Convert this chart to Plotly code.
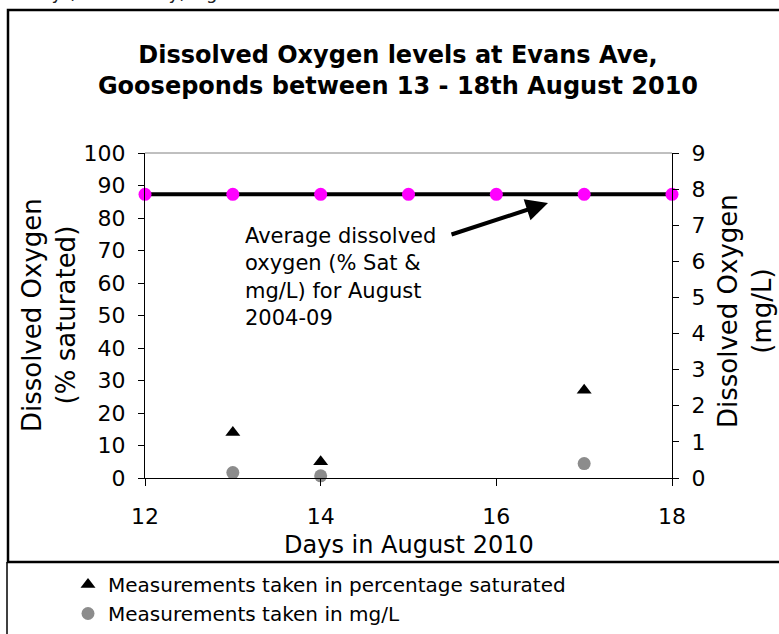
import plotly.graph_objects as go

# ---- data ----
days_all = [12, 13, 14, 15, 16, 17, 18]
avg_pct = [87.3, 87.3, 87.3, 87.3, 87.3, 87.3, 87.3]
meas_days = [13, 14, 17]
pct_sat = [14, 5, 27]
mg_l = [0.15, 0.06, 0.4]
x_ticks = [12, 14, 16, 18]
y_left_ticks = list(range(0, 101, 10))
y_right_ticks = list(range(0, 10))

FONT = "DejaVu Sans"

# plot area in pixels
L, R, T, B = 145, 672, 153, 478
W, H = 779, 634
def px(xp):
    return (xp - L) / (R - L)
def py(yp):
    return (B - yp) / (B - T)

fig = go.Figure()

# average line (black)
fig.add_trace(go.Scatter(x=days_all, y=avg_pct, mode="lines",
                         line=dict(color="black", width=4),
                         showlegend=False, hoverinfo="skip", cliponaxis=False))
# magenta points on average
fig.add_trace(go.Scatter(x=days_all, y=avg_pct, mode="markers",
                         marker=dict(color="#FF00FF", size=13, symbol="circle"),
                         showlegend=False, cliponaxis=False))
# triangles % saturated
fig.add_trace(go.Scatter(x=meas_days, y=pct_sat, mode="markers",
                         name="Measurements taken in percentage saturated",
                         marker=dict(color="black", size=13, symbol="triangle-up"),
                         cliponaxis=False))
# grey circles mg/L
fig.add_trace(go.Scatter(x=meas_days, y=mg_l, mode="markers", yaxis="y2",
                         name="Measurements taken in mg/L",
                         marker=dict(color="#8c8c8c", size=13, symbol="circle"),
                         cliponaxis=False))

fig.update_layout(
    width=W, height=H,
    margin=dict(l=L, r=W - R, t=T, b=H - B, autoexpand=False),
    paper_bgcolor="white", plot_bgcolor="white",
    font=dict(family=FONT, color="black"),
    title=dict(text="Dissolved Oxygen levels at Evans Ave,<br>Gooseponds between 13 - 18th August 2010",
               x=398 / W, xanchor="center", y=1 - 62.5 / H, yanchor="middle",
               yref="container", xref="container",
               font=dict(family=FONT, size=24, color="black", weight="bold")),
    xaxis=dict(range=[12, 18], tickvals=x_ticks, ticktext=[str(v) for v in x_ticks],
               showline=True, linecolor="black", linewidth=1,
               ticks="outside", ticklen=7, tickcolor="black",
               tickfont=dict(size=22, family=FONT), ticklabelstandoff=12,
               showgrid=False, zeroline=False),
    yaxis=dict(range=[0, 100], tickvals=y_left_ticks,
               showline=True, linecolor="black", linewidth=1,
               ticks="outside", ticklen=6, tickcolor="black",
               tickfont=dict(size=22, family=FONT), ticklabelstandoff=8,
               showgrid=False, zeroline=False),
    yaxis2=dict(range=[0, 9], tickvals=y_right_ticks, overlaying="y", side="right",
                showline=True, linecolor="black", linewidth=1,
                ticks="outside", ticklen=6, tickcolor="black",
                tickfont=dict(size=22, family=FONT), ticklabelstandoff=8,
                showgrid=False, zeroline=False),
    # inner half of the crossing ticks on the right axis
    yaxis3=dict(range=[0, 9], tickvals=y_right_ticks, overlaying="y", side="right",
                showline=False, ticks="inside", ticklen=6, tickcolor="black",
                showticklabels=False, showgrid=False, zeroline=False),
    legend=dict(x=px(68), y=py(565), xanchor="left", yanchor="top",
                font=dict(size=20, family=FONT), bgcolor="rgba(0,0,0,0)",
                tracegroupgap=0),
    showlegend=True,
)

annotations = [
    dict(text="Dissolved Oxygen<br>(% saturated)", xref="paper", yref="paper",
         x=px(49), y=py(315), textangle=-90, showarrow=False,
         font=dict(size=26, family=FONT), xanchor="center", yanchor="middle"),
    dict(text="Dissolved Oxygen<br>(mg/L)", xref="paper", yref="paper",
         x=px(745), y=py(311), textangle=-90, showarrow=False,
         font=dict(size=26, family=FONT), xanchor="center", yanchor="middle"),
    dict(text="Days in August 2010", xref="paper", yref="paper",
         x=px(409), y=py(545), showarrow=False,
         font=dict(size=24, family=FONT), xanchor="center", yanchor="middle"),
    dict(text="Average dissolved<br>oxygen (% Sat &<br>mg/L) for August<br>2004-09",
         xref="paper", yref="paper", x=px(243), y=py(222), showarrow=False,
         align="left", xanchor="left", yanchor="top",
         font=dict(size=21, family=FONT)),
    # arrow
    dict(text="", x=12 + (548 - L) / ((R - L) / 6), y=(B - 203) / ((B - T) / 100),
         xref="x", yref="y", ax=450 - 548, ay=235 - 203, axref="pixel", ayref="pixel",
         showarrow=True, arrowhead=2, arrowsize=1.1, arrowwidth=4, arrowcolor="black"),
    # clipped header text above the chart box
    dict(text="Tuesday (Wednesday) Figure", xref="paper", yref="paper",
         x=px(-14), y=py(5), showarrow=False, xanchor="left", yanchor="bottom",
         font=dict(size=18, family=FONT, color="#222222")),
]
fig.update_layout(annotations=annotations)

shapes = [
    # outer chart box
    dict(type="rect", xref="paper", yref="paper",
         x0=px(8), x1=px(800), y0=py(562), y1=py(10),
         line=dict(color="black", width=2.5)),
    # legend box left border
    dict(type="line", xref="paper", yref="paper",
         x0=px(7), x1=px(7), y0=py(562), y1=py(650),
         line=dict(color="black", width=1.5)),
    # top plot frame line (grey)
    dict(type="line", xref="paper", yref="paper",
         x0=0, x1=1, y0=1, y1=1, line=dict(color="#808080", width=1)),
]
fig.update_layout(shapes=shapes)

fig.write_html("out.html", config={"displayModeBar": False},
               post_script="document.body.style.margin='0px';")
